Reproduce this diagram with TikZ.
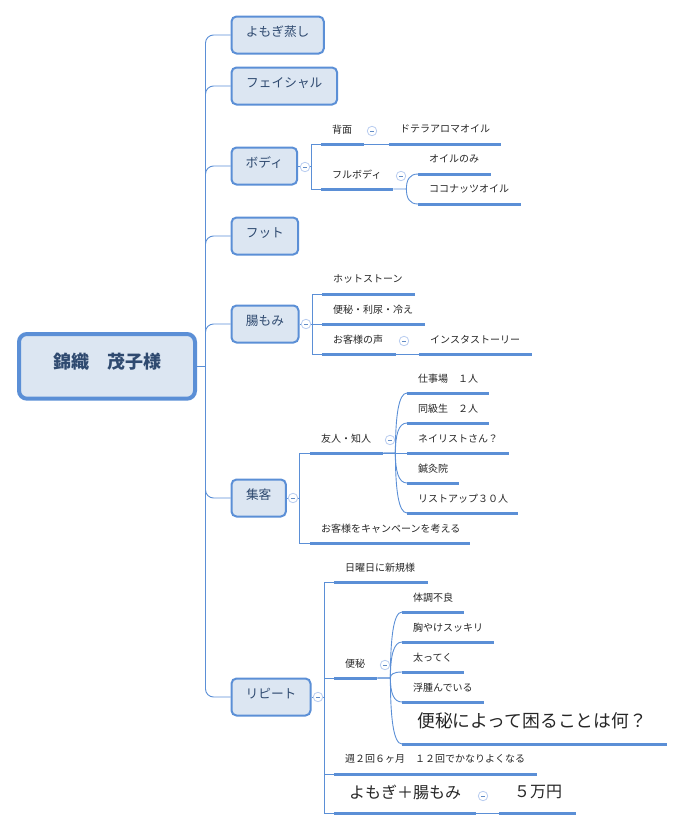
\documentclass[tikz,border=0pt]{standalone}
\usepackage{fontspec}
\usetikzlibrary{calc}
\setmainfont{Noto Sans CJK JP}
\definecolor{mapblue}{HTML}{5B8FD6}
\definecolor{mapfill}{HTML}{DCE6F2}
\definecolor{mapink}{HTML}{2F4A70}
\definecolor{mapring}{HTML}{B9CDF0}
\tikzset{
  root/.style={draw=mapblue, line width=4pt, fill=mapfill, rounded corners=8pt, text=mapink, font=\fontsize{18}{20}\selectfont\bfseries, inner sep=0pt, anchor=north west, text height=12pt, text depth=8pt},
  topic/.style={draw=mapblue, line width=2pt, fill=mapfill, rounded corners=5pt, text=mapink, font=\fontsize{12.7}{15}\selectfont, inner sep=0pt, minimum height=37pt, anchor=north west, text height=9pt, text depth=6pt},
  textleaf/.style={text=black!85, anchor=south west, inner sep=0pt, text width=#1, align=left},
  leaf/.style={textleaf=#1, font=\fontsize{10}{12}\selectfont, minimum height=29pt, execute at begin node={\hspace*{11pt}}},
  bigleaf/.style={textleaf=#1, font=\fontsize{17.8}{20}\selectfont, minimum height=46pt, execute at begin node={\hspace*{15pt}}},
  midleaf/.style={textleaf=#1, font=\fontsize{16}{18}\selectfont, minimum height=41pt, execute at begin node={\hspace*{15pt}}},
  bar/.style={draw=mapblue, line width=3pt},
  link/.style={draw=mapblue, line width=0.9pt},
  fold/.style={circle, draw=mapring, fill=white, line width=0.8pt, minimum size=9.5pt, inner sep=0pt, text=mapblue!80!gray},
}
\begin{document}
\begin{tikzpicture}[x=1pt, y=-1pt]
\useasboundingbox (0,0) rectangle (684,830);

% centre
\node[root, minimum width=176pt, minimum height=64.7pt] (master) at (17,332) {錦織　茂子様};
\coordinate (trunk) at (205.5,366.5);

% first level
\node[topic, minimum width=92.3pt] (yomogi) at (230.5,15.5) {よもぎ蒸し};
\node[topic, minimum width=105.6pt] (facial) at (230.5,66.5) {フェイシャル};
\node[topic, minimum width=65.7pt] (body) at (230.5,146.5) {ボディ};
\node[topic, minimum width=66.7pt] (foot) at (230.5,216.5) {フット};
\node[topic, minimum width=67pt] (choumomi) at (230.5,304.5) {腸もみ};
\node[topic, minimum width=54.4pt] (shukyaku) at (230.5,478.5) {集客};
\node[topic, minimum width=79pt] (repeat) at (230.5,677.5) {リピート};

% leaves
\node[leaf=43pt] (back) at (321,144) {背面};
\node[leaf=112pt] (doterra) at (389,144) {ドテラアロマオイル};
\node[leaf=72pt] (fullbody) at (321,189) {フルボディ};
\node[leaf=73pt] (oilonly) at (418,174) {オイルのみ};
\node[leaf=103pt] (coconut) at (418,204) {ココナッツオイル};

\node[leaf=93pt] (hotstone) at (322,294) {ホットストーン};
\node[leaf=103pt] (benpi) at (322,324) {便秘・利尿・冷え};
\node[leaf=74pt] (voice) at (322,354) {お客様の声};
\node[leaf=113pt] (insta) at (419,354) {インスタストーリー};

\node[leaf=73pt] (friends) at (310,453) {友人・知人};
\node[leaf=82pt] (work) at (407,393) {仕事場　１人};
\node[leaf=82pt] (classmate) at (407,423) {同級生　２人};
\node[leaf=102pt] (nailist) at (407,453) {ネイリストさん？};
\node[leaf=52pt] (acupuncture) at (407,483) {鍼灸院};
\node[leaf=111pt] (listup) at (407,513) {リストアップ３０人};
\node[leaf=160pt] (campaign) at (310,543) {お客様をキャンペーンを考える};

\node[leaf=94pt] (sunday) at (334,582) {日曜日に新規様};
\node[leaf=43pt] (constipation) at (334,678) {便秘};
\node[leaf=62pt] (unwell) at (402,612) {体調不良};
\node[leaf=92pt] (heartburn) at (402,642) {胸やけスッキリ};
\node[leaf=62pt] (gaining) at (402,672) {太ってく};
\node[leaf=82pt] (swelling) at (402,702) {浮腫んでいる};
\node[bigleaf=265pt] (trouble) at (402,744) {便秘によって困ることは何？};
\node[leaf=203pt] (twice) at (334,774) {週２回６ヶ月　１２回でかなりよくなる};
\node[midleaf=142pt] (combo) at (334,813) {よもぎ＋腸もみ};
\node[midleaf=77pt] (price) at (499,813) {５万円};

\foreach \n in {back,doterra,fullbody,oilonly,coconut,hotstone,benpi,voice,insta,friends,work,classmate,nailist,acupuncture,listup,campaign,sunday,constipation,unwell,heartburn,gaining,swelling,trouble,twice,combo,price}
  \draw[bar] (\n.south west) -- (\n.south east);

% trunk
\draw[link] (master.east |- trunk) -- (trunk);
\foreach \n in {yomogi,facial,body,foot,choumomi,shukyaku,repeat}
  \draw[link, rounded corners=8pt] (trunk) -- (trunk |- \n.west) -- (\n.west);

% square brackets
\foreach \p/\x/\a/\b in {body/311/back/fullbody,choumomi/312/hotstone/voice,shukyaku/299/friends/campaign,repeat/324/sunday/combo} {
  \coordinate (spine) at (\x,0);
  \draw[link] (\p.east) -- (spine |- \p.east);
  \draw[link] (\a.south west) -- (spine |- \a.south west) -- (spine |- \b.south west) -- (\b.south west);
}
\draw[link] (benpi.south west) -- ++(-10,0);
\draw[link] (constipation.south west) -- ++(-10,0);
\draw[link] (twice.south west) -- ++(-10,0);

% straight followers
\draw[link] (back.south east) -- (doterra.south west);
\draw[link] (voice.south east) -- (insta.south west);
\draw[link] (combo.south east) -- (price.south west);
\draw[link] (friends.south east) -- (nailist.south west);

% curved fans
\foreach \a/\k/\l/\h in {fullbody/oilonly/coconut/13,friends/work/listup/12,friends/classmate/acupuncture/12,constipation/unwell/trouble/13,constipation/heartburn/swelling/13,constipation/gaining/gaining/13}
  \draw[link] (\a.south east) -- ++(\h,0) coordinate (hub)
    (hub) .. controls ($(hub)!0.6!(hub |- \k.south west)$) and ($(hub |- \k.south west)+(3,0)$) .. (\k.south west)
    (hub) .. controls ($(hub)!0.6!(hub |- \l.south west)$) and ($(hub |- \l.south west)+(3,0)$) .. (\l.south west);

% fold marks
\foreach \n/\x/\y in {foldbody/305/167,foldback/372/131,foldfull/401/176,foldchou/306/324,foldvoice/404/341,foldshu/293/498,foldfriends/390/440,foldrepeat/318/697,foldcons/385/665,foldcombo/483/796}
  \node[fold] (\n) at (\x,\y) {\rule{4.5pt}{0.8pt}};
\end{tikzpicture}
\end{document}
